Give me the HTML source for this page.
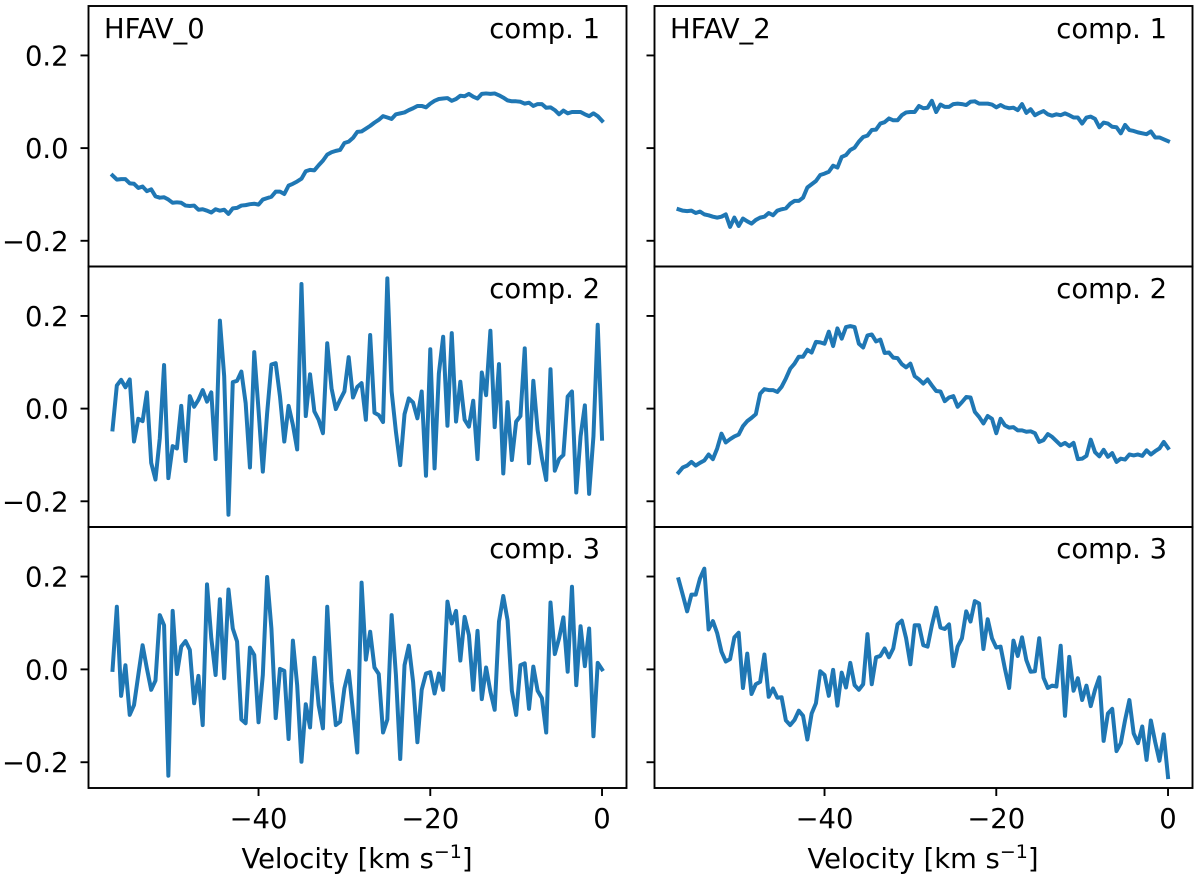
<!DOCTYPE html>
<html lang="en">
<head>
<meta charset="utf-8">
<title>HFAV component spectra</title>
<style>
html,body{margin:0;padding:0;background:#fff;}
svg{display:block;filter:blur(0.35px);}
text{font-family:"DejaVu Sans","Liberation Sans",sans-serif;font-size:27.4px;fill:#000;}
</style>
</head>
<body>
<svg id="chart" xmlns="http://www.w3.org/2000/svg" width="1200" height="881" viewBox="0 0 1200 881">
  <rect x="0" y="0" width="1200" height="881" fill="#fff"/>
  <g id="marks"></g>
  <g>
    <text x="104" y="38">HFAV_0</text>
    <text x="670" y="38">HFAV_2</text>
    <text x="600" y="38" text-anchor="end">comp. 1</text>
    <text x="600" y="298" text-anchor="end">comp. 2</text>
    <text x="600" y="558" text-anchor="end">comp. 3</text>
    <text x="1167" y="38" text-anchor="end">comp. 1</text>
    <text x="1167" y="298" text-anchor="end">comp. 2</text>
    <text x="1167" y="558" text-anchor="end">comp. 3</text>
  </g>
  <text x="357" y="868" text-anchor="middle">Velocity [km s<tspan dy="-10" font-size="19">−1</tspan><tspan dy="10">]</tspan></text>
  <text x="923" y="868" text-anchor="middle">Velocity [km s<tspan dy="-10" font-size="19">−1</tspan><tspan dy="10">]</tspan></text>
</svg>
<script>
const velocity = [
-57,-56.5,-56,-55.5,-55,-54.5,-54,-53.5,-53,-52.5,
-52,-51.5,-51,-50.5,-50,-49.5,-49,-48.5,-48,-47.5,
-47,-46.5,-46,-45.5,-45,-44.5,-44,-43.5,-43,-42.5,
-42,-41.5,-41,-40.5,-40,-39.5,-39,-38.5,-38,-37.5,
-37,-36.5,-36,-35.5,-35,-34.5,-34,-33.5,-33,-32.5,
-32,-31.5,-31,-30.5,-30,-29.5,-29,-28.5,-28,-27.5,
-27,-26.5,-26,-25.5,-25,-24.5,-24,-23.5,-23,-22.5,
-22,-21.5,-21,-20.5,-20,-19.5,-19,-18.5,-18,-17.5,
-17,-16.5,-16,-15.5,-15,-14.5,-14,-13.5,-13,-12.5,
-12,-11.5,-11,-10.5,-10,-9.5,-9,-8.5,-8,-7.5,
-7,-6.5,-6,-5.5,-5,-4.5,-4,-3.5,-3,-2.5,
-2,-1.5,-1,-0.5,0];

const hfav0Comp1 = [
-0.059,-0.068,-0.067,-0.067,-0.076,-0.077,-0.086,-0.083,-0.093,-0.089,
-0.104,-0.107,-0.106,-0.111,-0.118,-0.117,-0.118,-0.124,-0.125,-0.124,
-0.133,-0.132,-0.135,-0.139,-0.132,-0.135,-0.133,-0.142,-0.130,-0.129,
-0.124,-0.123,-0.121,-0.120,-0.122,-0.111,-0.108,-0.105,-0.094,-0.094,
-0.099,-0.081,-0.077,-0.072,-0.066,-0.050,-0.047,-0.048,-0.037,-0.027,
-0.014,-0.009,-0.006,-0.004,0.011,0.014,0.022,0.035,0.036,0.042,
0.048,0.055,0.061,0.069,0.066,0.063,0.073,0.075,0.077,0.082,
0.086,0.091,0.091,0.088,0.096,0.102,0.106,0.107,0.108,0.102,
0.106,0.113,0.112,0.117,0.111,0.107,0.117,0.118,0.117,0.118,
0.114,0.109,0.103,0.101,0.101,0.100,0.096,0.098,0.091,0.095,
0.095,0.087,0.088,0.082,0.073,0.081,0.075,0.078,0.078,0.078,
0.073,0.069,0.075,0.069,0.059];

const hfav0Comp2 = [
-0.045,0.050,0.062,0.046,0.063,-0.071,-0.022,-0.027,0.035,-0.117,
-0.153,-0.064,0.094,-0.150,-0.081,-0.086,0.006,-0.113,0.027,0.004,
0.019,0.040,0.015,0.035,-0.109,0.190,0.070,-0.229,0.057,0.060,
0.080,0.012,-0.127,0.122,-0.003,-0.136,-0.010,0.095,0.098,0.026,
-0.071,0.006,-0.035,-0.088,0.269,-0.016,0.074,-0.006,-0.024,-0.053,
0.141,0.044,-0.001,0.019,0.037,0.111,0.024,0.047,0.055,-0.024,
0.159,-0.009,-0.014,-0.029,0.281,0.037,-0.050,-0.122,-0.012,0.022,
0.013,-0.021,0.037,-0.145,0.128,-0.129,0.076,0.155,-0.037,0.163,
-0.028,0.058,-0.024,-0.039,0.017,-0.109,0.078,0.029,0.168,-0.040,
0.096,-0.140,0.014,-0.111,-0.028,-0.016,0.130,-0.118,0.060,-0.046,
-0.107,-0.154,0.085,-0.134,-0.109,-0.100,0.026,0.037,-0.181,-0.060,
0.007,-0.184,-0.060,0.181,-0.065];

const hfav0Comp3 = [
-0.001,0.135,-0.057,0.009,-0.098,-0.077,-0.012,0.052,0.002,-0.044,
-0.024,0.117,0.095,-0.229,0.126,-0.010,0.049,0.061,0.042,-0.073,
-0.014,-0.120,0.183,0.067,-0.012,0.151,-0.019,0.172,0.088,0.060,
-0.108,-0.116,0.047,0.031,-0.114,-0.012,0.199,0.088,-0.105,0.001,
-0.003,-0.150,0.062,-0.034,-0.199,-0.075,-0.125,0.025,-0.077,-0.127,
0.135,-0.027,-0.120,-0.113,-0.041,-0.003,-0.091,-0.179,0.187,0.021,
0.081,0.004,-0.010,-0.136,-0.108,0.117,-0.012,-0.193,0.009,0.051,
-0.027,-0.157,-0.044,-0.009,-0.006,-0.052,-0.009,-0.044,0.146,0.099,
0.126,0.019,0.113,0.074,-0.044,0.083,-0.064,0.004,-0.048,-0.087,
0.103,0.158,0.106,-0.046,-0.098,0.009,0.013,-0.085,0.006,-0.046,
-0.062,-0.136,0.144,0.033,0.067,0.112,-0.005,0.178,-0.034,0.093,
0.007,0.088,-0.144,0.014,0.000];

const hfav2Comp1 = [
-0.132,-0.135,-0.136,-0.135,-0.140,-0.137,-0.143,-0.145,-0.148,-0.150,
-0.148,-0.143,-0.170,-0.150,-0.168,-0.152,-0.158,-0.163,-0.155,-0.150,
-0.148,-0.140,-0.145,-0.135,-0.132,-0.130,-0.120,-0.114,-0.114,-0.107,
-0.085,-0.078,-0.071,-0.058,-0.055,-0.051,-0.038,-0.042,-0.019,-0.015,
-0.004,0.001,0.014,0.024,0.027,0.039,0.040,0.053,0.056,0.064,
0.060,0.060,0.071,0.077,0.078,0.078,0.091,0.086,0.087,0.102,
0.078,0.094,0.089,0.089,0.095,0.096,0.095,0.093,0.100,0.101,
0.096,0.096,0.096,0.094,0.088,0.093,0.088,0.086,0.087,0.082,
0.095,0.076,0.084,0.071,0.076,0.080,0.073,0.070,0.073,0.071,
0.075,0.071,0.066,0.066,0.053,0.066,0.068,0.063,0.045,0.055,
0.053,0.046,0.045,0.032,0.050,0.039,0.037,0.034,0.032,0.030,
0.036,0.023,0.023,0.019,0.015];

const hfav2Comp2 = [
-0.138,-0.127,-0.123,-0.115,-0.123,-0.117,-0.112,-0.099,-0.109,-0.086,
-0.054,-0.073,-0.066,-0.060,-0.056,-0.038,-0.027,-0.020,-0.012,0.032,
0.042,0.040,0.040,0.036,0.047,0.065,0.086,0.097,0.112,0.112,
0.127,0.121,0.144,0.143,0.140,0.166,0.135,0.173,0.151,0.176,
0.178,0.176,0.140,0.132,0.158,0.160,0.145,0.149,0.120,0.121,
0.110,0.109,0.096,0.089,0.097,0.070,0.063,0.054,0.063,0.050,
0.038,0.037,0.016,0.024,0.027,0.004,0.014,0.025,0.024,-0.007,
-0.018,-0.032,-0.016,-0.022,-0.053,-0.022,-0.036,-0.041,-0.040,-0.047,
-0.047,-0.050,-0.049,-0.053,-0.072,-0.068,-0.055,-0.061,-0.070,-0.079,
-0.074,-0.081,-0.074,-0.109,-0.108,-0.102,-0.067,-0.094,-0.103,-0.089,
-0.104,-0.096,-0.115,-0.108,-0.110,-0.099,-0.101,-0.099,-0.102,-0.090,
-0.099,-0.092,-0.086,-0.072,-0.085];

const hfav2Comp3 = [
0.194,0.160,0.125,0.161,0.161,0.196,0.217,0.086,0.104,0.078,
0.038,0.017,0.022,0.069,0.079,-0.040,0.034,-0.053,-0.032,-0.027,
0.032,-0.059,-0.041,-0.061,-0.060,-0.110,-0.120,-0.109,-0.089,-0.100,
-0.151,-0.095,-0.073,-0.004,-0.012,-0.057,-0.001,-0.078,-0.007,-0.039,
0.014,-0.034,-0.044,-0.032,0.076,-0.032,0.026,0.029,0.045,0.026,
0.045,0.097,0.105,0.067,0.011,0.095,0.095,0.052,0.049,0.095,
0.133,0.090,0.087,0.097,0.007,0.049,0.067,0.125,0.103,0.147,
0.142,0.044,0.108,0.067,0.047,0.049,0.002,-0.040,0.062,0.029,
0.069,0.020,-0.005,-0.004,0.067,-0.018,-0.040,-0.035,-0.037,0.051,
-0.100,0.027,-0.046,-0.019,-0.066,-0.035,-0.079,-0.044,-0.017,-0.154,
-0.095,-0.085,-0.176,-0.159,-0.109,-0.066,-0.138,-0.159,-0.123,-0.195,
-0.110,-0.156,-0.197,-0.140,-0.232];

const xTicks = [-40,-20,0];
const xTickLabels = ["−40","−20","0"];
const yTicks = [0.2,0,-0.2];
const yTickLabels = ["0.2","0.0","−0.2"];
const xDomain = [-59.8,2.85];
const yDomain = [-0.2555,0.3067];

const columns = [
  {id:"hfav-0",left:88.5,right:626.5,showY:true,series:[hfav0Comp1,hfav0Comp2,hfav0Comp3]},
  {id:"hfav-2",left:654.5,right:1192.5,showY:false,series:[hfav2Comp1,hfav2Comp2,hfav2Comp3]}
];
const rows = [{top:6,bottom:266.5},{top:266.5,bottom:527},{top:527,bottom:788}];

const NS = "http://www.w3.org/2000/svg";
const root = document.getElementById("marks");

function make(tag, attrs, parent){
  const el = document.createElementNS(NS, tag);
  for (const k in attrs) el.setAttribute(k, attrs[k]);
  parent.appendChild(el);
  return el;
}
function xScale(col, v){
  return col.left + (v - xDomain[0]) / (xDomain[1] - xDomain[0]) * (col.right - col.left);
}
function yScale(row, v){
  return row.bottom - (v - yDomain[0]) / (yDomain[1] - yDomain[0]) * (row.bottom - row.top);
}

columns.forEach(function(col){
  rows.forEach(function(row, r){
    const g = make("g", {}, root);
    
    

    const pts = velocity.map(function(v, i){
      return xScale(col, v).toFixed(2) + "," + yScale(row, col.series[r][i]).toFixed(2);
    }).join(" ");
    const line = make("polyline", {points:pts, fill:"none", stroke:"#1f77b4", "stroke-width":"4", "stroke-linejoin":"round", "stroke-linecap":"square"}, g);
    
    

    yTicks.forEach(function(t, j){
      const y = yScale(row, t);
      const tick = make("line", {x1:col.left - 8, x2:col.left, y1:y, y2:y, stroke:"#000", "stroke-width":"1.9"}, g);
      
      
      if (col.showY) {
        const lab = make("text", {x:68.5, y:y + 10, "text-anchor":"end"}, g);
        lab.textContent = yTickLabels[j];
        
        
      }
    });

    const frame = make("rect", {x:col.left, y:row.top, width:col.right - col.left, height:row.bottom - row.top, fill:"none", stroke:"#000", "stroke-width":"1.9"}, g);
    
    

    if (r === rows.length - 1) {
      xTicks.forEach(function(t, j){
        const x = xScale(col, t);
        const tick = make("line", {x1:x, x2:x, y1:row.bottom, y2:row.bottom + 8, stroke:"#000", "stroke-width":"1.9"}, g);
        
        
        const lab = make("text", {x:x, y:828, "text-anchor":"middle"}, g);
        lab.textContent = xTickLabels[j];
        
        
      });
    }
  });
});
</script>
</body>
</html>
